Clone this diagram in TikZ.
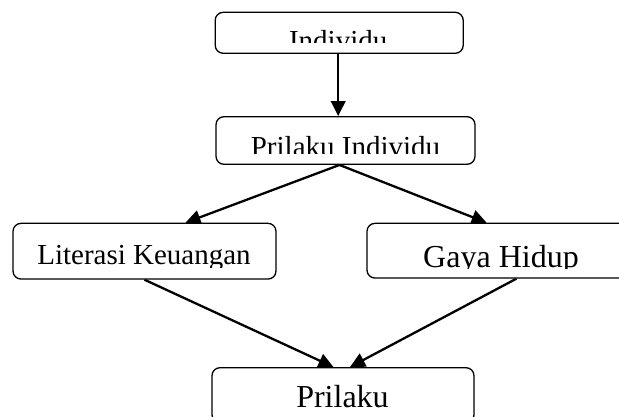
\documentclass[tikz,border=0pt]{standalone}
\usepackage{fontspec}
\setmainfont{Liberation Serif}
\usetikzlibrary{arrows.meta,backgrounds}
\tikzset{
  block/.style={draw, rounded corners=8pt, line width=1.3pt, fill=white, inner sep=0pt},
  txt/.style={inner sep=0pt, anchor=base, font=\fontsize{29pt}{34pt}\selectfont},
  txtbig/.style={txt, font=\fontsize{32pt}{38pt}\selectfont},
  arrow/.style={-{Triangle[length=15pt,width=14.5pt]}, line width=2.3pt}
}
\begin{document}
\begin{tikzpicture}[x=1pt, y=-1pt]
    \useasboundingbox (0,0) rectangle (619,417);

    \node[block, minimum width=248pt, minimum height=41pt] (ind) at (339.2,32.8) {};
    \node[block, minimum width=259pt, minimum height=47.6pt] (pi) at (345.5,140.5) {};
    \node[block, minimum width=263pt, minimum height=55.7pt] (lit) at (144.5,251.2) {};
    \node[block, minimum width=263pt, minimum height=54.7pt] (gh) at (498.5,250.7) {};
    \node[block, minimum width=262pt, minimum height=55pt] (pr) at (343,395.2) {};

    % texts, cut off at the bottom as in the original
    \begin{scope}
      \clip (ind.north west) rectangle ([yshift=11.6pt]ind.south east);
      \node[txt] (ind-t) at ([xshift=-1pt, yshift=3.1pt]ind.south) {Individu};
    \end{scope}
    \begin{scope}
      \clip (pi.north west) rectangle ([yshift=11pt]pi.south east);
      \node[txt] (pi-t) at ([yshift=8.3pt]pi.south) {Prilaku Individu};
    \end{scope}
    \begin{scope}
      \clip (lit.north west) rectangle ([yshift=12pt]lit.south east);
      \node[txt] (lit-t) at ([xshift=-0.5pt, yshift=15.5pt]lit.south) {Literasi Keuangan};
    \end{scope}
    \begin{scope}
      \clip (gh.north west) rectangle ([yshift=10.5pt]gh.south east);
      \node[txtbig] (gh-t) at ([xshift=2.5pt, yshift=11.5pt]gh.south) {Gaya Hidup};
    \end{scope}
    \node[txtbig] (pr-t) at ([xshift=-0.5pt, yshift=-40.3pt]pr.north) {Prilaku};

    \begin{scope}[on background layer]
      \draw[arrow] ([xshift=-1pt]ind.south) -- ([xshift=-1pt]ind.south |- pi.north);
      \draw[arrow] ([xshift=-6pt]pi.south) -- ([xshift=41pt]lit.north);
      \draw[arrow] ([xshift=-6pt]pi.south) -- ([xshift=120.3pt]gh.north west);
      \draw[arrow] (lit.south) -- ([xshift=-9.5pt]pr.north);
      \draw[arrow] ([xshift=150pt]gh.south west) -- ([xshift=7pt]pr.north);
    \end{scope}
\end{tikzpicture}
\end{document}
